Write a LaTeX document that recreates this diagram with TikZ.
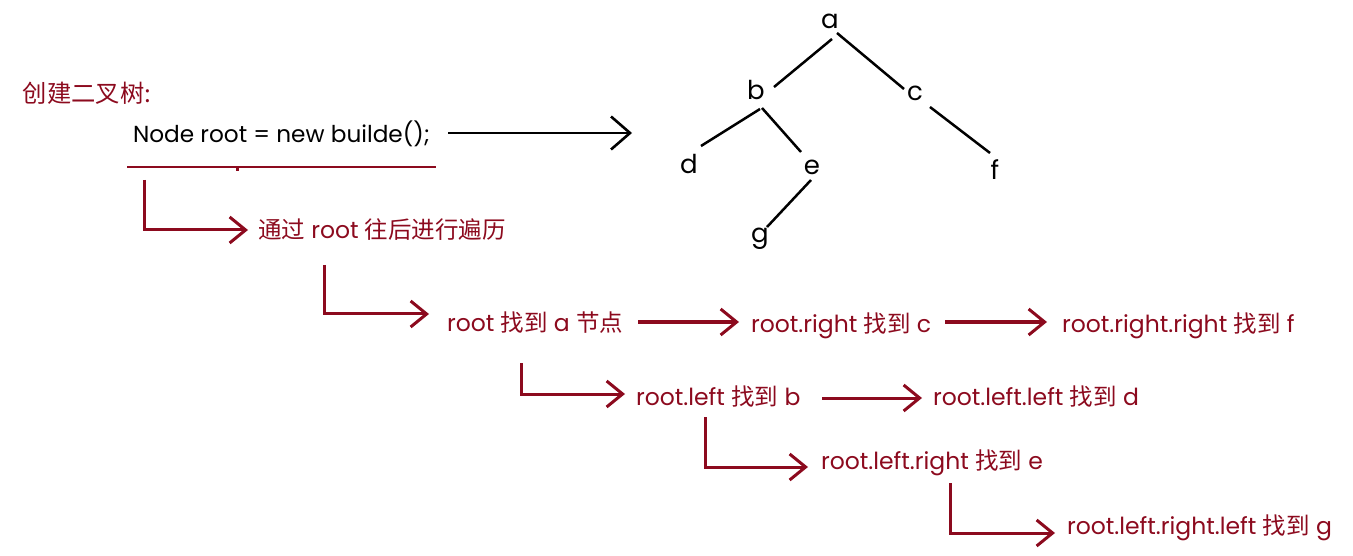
\documentclass[tikz,border=0pt]{standalone}
\usepackage{fontspec}
\setmainfont{Poppins}
\newfontfamily\cjk{Noto Sans CJK SC}
\usetikzlibrary{arrows.meta}
\definecolor{dred}{RGB}{140,10,30}
\begin{document}
\begin{tikzpicture}[x=1pt,y=-1pt,
  every node/.style={inner sep=0pt,outer sep=0pt},
  rtext/.style={anchor=base west,text=dred,font=\fontsize{23.5}{27}\selectfont},
  treenode/.style={anchor=base,font=\fontsize{26}{30}\selectfont},
  treeedge/.style={line width=2.5pt,black},
  redline/.style={line width=3pt,dred,-{Straight Barb[length=16pt,width=26pt]}},
  blackarrow/.style={line width=2.6pt,black,-{Straight Barb[length=19pt,width=33pt]}}]
\useasboundingbox (0,0) rectangle (1353,556);

% title and code
\node[anchor=base west,text=dred,font=\fontsize{24.3}{28}\selectfont\cjk] (title) at (23,103) {创建二叉树:};
\node[anchor=base west,font=\fontsize{23.2}{27}\selectfont] (code) at (133,143) {Node root = new builde();};
\coordinate (ulA) at (127,167);
\coordinate (ulB) at (436,167);
\draw[line width=2.5pt,dred] (ulA) -- (ulB);
\fill[dred] (236,168.5) rectangle (238.5,171);

% tree
\node[treenode] (a) at (830,29) {a};
\node[treenode] (b) at (756,100) {b};
\node[treenode] (c) at (915,101) {c};
\node[treenode] (d) at (689,174) {d};
\node[treenode] (e) at (812,175) {e};
\node[treenode] (f) at (995,180) {f};
\node[treenode] (g) at (760,243) {g};
\draw[treeedge] ([shift={(2,10)}]a.base) -- ([shift={(18,-13)}]b.base);
\draw[treeedge] ([shift={(7,4)}]a.base) -- ([shift={(-11,-12)}]c.base);
\draw[treeedge] ([shift={(4,9)}]b.base) -- ([shift={(12,-28)}]d.base);
\draw[treeedge] ([shift={(6,8)}]b.base) -- ([shift={(-11,-23)}]e.base);
\draw[treeedge] ([shift={(15,6)}]c.base) -- ([shift={(-5,-27)}]f.base);
\draw[treeedge] ([shift={(-1,5)}]e.base) -- ([shift={(7,-16)}]g.base);

% black arrow
\coordinate (treeL) at (632,133);
\draw[blackarrow] ([shift={(315,-10)}]code.base west) -- (treeL);

% red texts
\node[rtext] (t1) at (258,239) {{\cjk 通过} root {\cjk 往后进行遍历}};
\node[rtext] (t2) at (447,331) {root {\cjk 找到} a {\cjk 节点}};
\node[rtext] (t3) at (751,332) {root.right {\cjk 找到} c};
\node[rtext] (t4) at (1062,332) {root.right.right {\cjk 找到} f};
\node[rtext] (t5) at (636,405) {root.left {\cjk 找到} b};
\node[rtext] (t6) at (933,405) {root.left.left {\cjk 找到} d};
\node[rtext] (t7) at (821,469) {root.left.right {\cjk 找到} e};
\node[rtext] (t8) at (1067,534) {root.left.right.left {\cjk 找到} g};

% L connectors
\coordinate (s1) at (144,180);
\draw[redline] (s1) |- ([shift={(-10,-9)}]t1.base west);
\draw[redline] ([shift={(66,26)}]t1.base west) |- ([shift={(-18,-17)}]t2.base west);
\draw[redline] ([shift={(74,32)}]t2.base west) |- ([shift={(-11,-11)}]t5.base west);
\draw[redline] ([shift={(69,12)}]t5.base west) |- ([shift={(-13,-2)}]t7.base west);
\draw[redline] ([shift={(129,14)}]t7.base west) |- ([shift={(-12,-1)}]t8.base west);

% straight connectors
\draw[redline] ([shift={(191,-9)}]t2.base west) -- ([shift={(-12,-10)}]t3.base west);
\draw[redline] ([shift={(194,-10)}]t3.base west) -- ([shift={(-15,-10)}]t4.base west);
\draw[redline] ([shift={(186,-7)}]t5.base west) -- ([shift={(-11,-7)}]t6.base west);
\end{tikzpicture}
\end{document}
